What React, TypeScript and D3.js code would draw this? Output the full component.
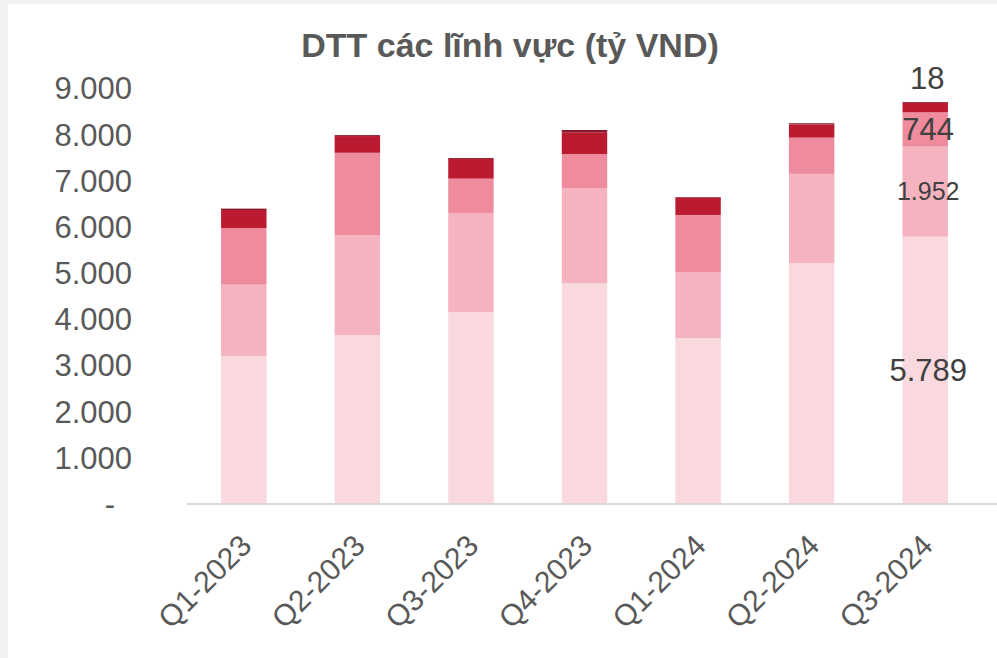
import React from "react";
import * as d3 from "d3";

const categories = ["Q1-2023", "Q2-2023", "Q3-2023", "Q4-2023", "Q1-2024", "Q2-2024", "Q3-2024"];
const seriesA = [3200, 3660, 4160, 4780, 3595, 5220, 5789];
const seriesB = [1550, 2165, 2145, 2065, 1425, 1930, 1952];
const seriesC = [1228, 1783, 743, 736, 1241, 786, 744];
const seriesD = [390, 362, 427, 470, 379, 286, 204];
const seriesE = [30, 20, 20, 50, 10, 25, 18];
const seriesColors = ["#f9d8de", "#f5b2bf", "#ee8b9c", "#bb1b31", "#86182a"];
const yTicks = [0, 1000, 2000, 3000, 4000, 5000, 6000, 7000, 8000, 9000];
const title = "DTT các lĩnh vực (tỷ VND)";

const W = 997;
const H = 658;

const fmt = (v: number) => (v === 0 ? "-" : d3.format(",")(v).replace(/,/g, "."));

export default function App() {
  const allSeries = [seriesA, seriesB, seriesC, seriesD, seriesE];
  const keys = ["a", "b", "c", "d", "e"];
  const rows = categories.map((c, i) => {
    const r: any = { cat: c };
    keys.forEach((k, j) => (r[k] = allSeries[j][i]));
    return r;
  });
  const stacked = d3.stack().keys(keys)(rows);

  const x = d3.scaleBand<string>().domain(categories).range([187, 982]).paddingInner(0.6).paddingOuter(0.3);
  const y = d3.scaleLinear().domain([0, 9000]).range([504, 88.5]);

  const lastIdx = categories.length - 1;
  const lastCat = categories[lastIdx];
  const lastCx = (x(lastCat) as number) + x.bandwidth() / 2;

  const font = "'Liberation Sans', Arial, sans-serif";
  const labelColor = "#404040";

  // data labels on last bar
  const labelSpecs = [
    { s: 0, size: 31 },
    { s: 1, size: 25 },
    { s: 2, size: 31 },
  ];

  return (
    <svg
      width={W}
      height={H}
      style={{ position: "absolute", left: 0, top: 0, display: "block" }}
      fontFamily={font}
    >
      <rect x={0} y={0} width={W} height={H} fill="#f2f2f2" />
      <rect x={8} y={4} width={W - 8} height={H - 4} fill="#ffffff" />

      <text x={510} y={57} textAnchor="middle" fontSize={34} fontWeight="bold" fill="#595959">
        {title}
      </text>

      {yTicks.map((t) => (
        <text
          key={t}
          x={t === 0 ? 110 : 132}
          y={y(t)}
          dy="0.35em"
          textAnchor={t === 0 ? "middle" : "end"}
          fontSize={31}
          fill="#595959"
        >
          {fmt(t)}
        </text>
      ))}

      {stacked.map((layer, li) => (
        <g key={li} fill={seriesColors[li]}>
          {layer.map((d, i) => (
            <rect
              key={i}
              x={x(categories[i]) as number}
              width={x.bandwidth()}
              y={y(d[1])}
              height={Math.max(0, y(d[0]) - y(d[1]))}
            />
          ))}
        </g>
      ))}

      <line x1={187} x2={W} y1={y(0)} y2={y(0)} stroke="#d9d9d9" strokeWidth={2} />

      {categories.map((c) => {
        const cx = (x(c) as number) + x.bandwidth() / 2;
        return (
          <text
            key={c}
            transform={`translate(${cx + 2},${540}) rotate(-45)`}
            dy="0.35em"
            textAnchor="end"
            fontSize={30}
            fill="#595959"
          >
            {c}
          </text>
        );
      })}

      {labelSpecs.map(({ s, size }) => {
        const d = stacked[s][lastIdx];
        const v = allSeries[s][lastIdx];
        return (
          <text
            key={s}
            x={lastCx + 3}
            y={(y(d[0]) + y(d[1])) / 2}
            dy="0.35em"
            textAnchor="middle"
            fontSize={size}
            fill={labelColor}
          >
            {fmt(v)}
          </text>
        );
      })}
      <text
        x={lastCx + 2}
        y={y(stacked[4][lastIdx][1]) - 24}
        dy="0.35em"
        textAnchor="middle"
        fontSize={31}
        fill={labelColor}
      >
        {fmt(seriesE[lastIdx])}
      </text>
    </svg>
  );
}
